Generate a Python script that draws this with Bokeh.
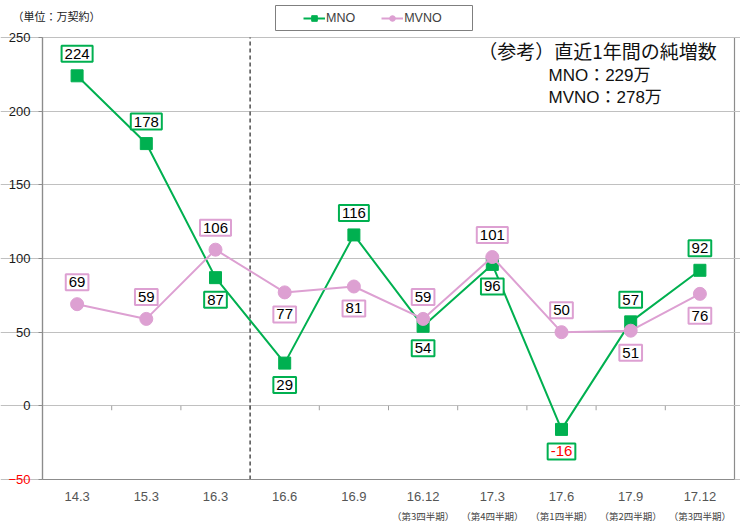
from bokeh.plotting import figure
from bokeh.models import (Range1d, FixedTicker, LinearAxis, Label, Legend,
                          LegendItem, ColumnDataSource)
from bokeh.core.properties import value
from bokeh.embed import file_html
from bokeh.resources import INLINE

# ---------------- data ----------------
categories = ["14.3", "15.3", "16.3", "16.6", "16.9", "16.12", "17.3", "17.6", "17.9", "17.12"]
sub_labels = ["", "", "", "", "", "（第3四半期）", "（第4四半期）", "（第1四半期）", "（第2四半期）", "（第3四半期）"]
mno = [224, 178, 87, 29, 116, 54, 96, -16, 57, 92]
mvno = [69, 59, 106, 77, 81, 59, 101, 50, 51, 76]
mno_side = ["above", "above", "below", "below", "above", "below", "below", "below", "above", "above"]
mvno_side = ["above", "above", "above", "below", "below", "above", "above", "above", "below", "below"]
y_ticks = [-50, 0, 50, 100, 150, 200, 250]
neg_ticks = [t for t in y_ticks if t < 0]
split_after = "16.3"   # dashed separator after this category
note_title = "（参考）直近1年間の純増数"
note_lines = ["MNO：229万", "MVNO：278万"]
unit_label = "（単位：万契約）"

GREEN = "#00B050"
PINK = "#DDA0D2"
FRAME = "#8c8c8c"
LAT = "Liberation Sans"
JP = "Noto Sans CJK JP"

# ---------------- layout (pixels) ----------------
W, H = 740, 522
PX_L, PX_R, PX_T, PX_B = 42, 734, 37, 479   # plot-area box on the canvas
LEG_BOX = (275, 472, 5, 30)                 # legend box: left, right, top, bottom

xs = list(range(len(categories)))
x0, x1 = -0.5, len(categories) - 0.5
y0, y1 = min(y_ticks), max(y_ticks)
ux = (x1 - x0) / (PX_R - PX_L)
uy = (y1 - y0) / (PX_B - PX_T)
x_range = Range1d(x0 - PX_L * ux, x1 + (W - PX_R) * ux)
y_range = Range1d(y0 - (H - PX_B) * uy, y1 + PX_T * uy)


def dx(px):
    return x0 + (px - PX_L) * ux


def dy(py):
    return y1 - (py - PX_T) * uy


p = figure(width=W, height=H, output_backend="svg", toolbar_location=None,
           x_range=x_range, y_range=y_range, x_axis_type=None,
           min_border_left=0, min_border_right=0, min_border_top=0, min_border_bottom=0)
p.background_fill_color = "white"
p.border_fill_color = "white"
p.outline_line_color = None

# plot-area box
p.quad(left=[x0], right=[x1], bottom=[y0], top=[y1], fill_color=None,
       line_color=FRAME, line_width=1.2, level="underlay")

# y axis at the left edge of the plot area
ya = p.yaxis[0]
ya.fixed_location = x0
ya.bounds = (y0, y1)
ya.ticker = FixedTicker(ticks=y_ticks)
ya.major_label_overrides = {t: " " for t in neg_ticks}
ya.axis_line_color = FRAME
ya.axis_line_width = 1.2
ya.major_tick_line_color = FRAME
ya.major_tick_in = 0
ya.major_tick_out = 4
ya.minor_tick_line_color = None
ya.major_label_standoff = 8
ya.major_label_text_font = LAT
ya.major_label_text_font_size = "13px"
ya.major_label_text_color = "#1a1a1a"

yneg = LinearAxis(ticker=FixedTicker(ticks=neg_ticks), fixed_location=x0, bounds=(y0, y1))
yneg.axis_line_color = None
yneg.major_tick_line_color = None
yneg.minor_tick_line_color = None
yneg.major_tick_in = 0
yneg.major_tick_out = 4
yneg.major_label_standoff = 8
yneg.major_label_text_font = LAT
yneg.major_label_text_font_size = "13px"
yneg.major_label_text_color = "#ff0000"
p.add_layout(yneg, "left")

p.ygrid.ticker = FixedTicker(ticks=y_ticks)
p.ygrid.bounds = (x0, x1)
p.ygrid.grid_line_color = "#c0c0c0"
p.ygrid.grid_line_width = 1

# x axes at the bottom edge of the plot area (main labels + sub labels)
xa = LinearAxis(ticker=FixedTicker(ticks=xs), fixed_location=y0, bounds=(x0, x1),
                major_label_overrides={i: c for i, c in enumerate(categories)})
xa.axis_line_color = FRAME
xa.axis_line_width = 1.2
xa.major_tick_line_color = None
xa.minor_tick_line_color = None
xa.major_tick_in = 0
xa.major_tick_out = 0
xa.major_label_standoff = 12
xa.major_label_text_font = LAT
xa.major_label_text_font_size = "13px"
xa.major_label_text_color = "#555555"
p.add_layout(xa, "below")

xb = LinearAxis(ticker=FixedTicker(ticks=xs), fixed_location=y0, bounds=(x0, x1),
                major_label_overrides={i: (s if s else " ") for i, s in enumerate(sub_labels)})
xb.axis_line_color = None
xb.major_tick_line_color = None
xb.minor_tick_line_color = None
xb.major_tick_in = 0
xb.major_tick_out = 0
xb.major_label_standoff = 29
xb.major_label_text_font = JP
xb.major_label_text_font_size = "9.5px"
xb.major_label_text_color = "#444444"
p.add_layout(xb, "below")

# tick marks on the zero line at category boundaries
bx = [i + 0.5 for i in range(len(categories) - 1)]
p.segment(x0=bx, x1=bx, y0=[0] * len(bx), y1=[-3] * len(bx), line_color="#a0a0a0", line_width=1)

# dashed separator
sx = categories.index(split_after) + 0.5
p.segment(x0=[sx], x1=[sx], y0=[y0], y1=[y1], line_color="#333333",
          line_dash="4 3", line_width=1.3)

# legend frame (drawn as a box above the plot area)
lb = LEG_BOX
p.quad(left=[dx(lb[0])], right=[dx(lb[1])], top=[dy(lb[2])], bottom=[dy(lb[3])],
       fill_color="white", line_color="#7f7f7f", line_width=1)

# series
src_mno = ColumnDataSource(dict(x=xs, y=mno, t=[str(v) for v in mno],
                                off=[-22 if s == "above" else 22 for s in mno_side],
                                c=["#ff0000" if v < 0 else "#000000" for v in mno]))
src_mvno = ColumnDataSource(dict(x=xs, y=mvno, t=[str(v) for v in mvno],
                                 off=[-22 if s == "above" else 22 for s in mvno_side],
                                 c=["#ff0000" if v < 0 else "#000000" for v in mvno]))

l1 = p.line("x", "y", source=src_mno, line_color=GREEN, line_width=2)
m1 = p.scatter("x", "y", source=src_mno, marker="square", size=12, fill_color=GREEN, line_color=GREEN)
l2 = p.line("x", "y", source=src_mvno, line_color=PINK, line_width=2)
m2 = p.scatter("x", "y", source=src_mvno, marker="circle", size=13, fill_color=PINK, line_color=PINK)

for src, col in ((src_mno, GREEN), (src_mvno, PINK)):
    p.text("x", "y", text="t", source=src, y_offset="off", text_align="center",
           text_baseline="middle", text_font=value(LAT), text_font_size="15px",
           text_color="c", background_fill_color="white", border_line_color=col,
           border_line_width=2, padding=3)

# legend items (location = bottom-left, px from canvas bottom-left)
legend = Legend(items=[LegendItem(label="MNO", renderers=[l1, m1]),
                       LegendItem(label="MVNO", renderers=[l2, m2])],
                orientation="horizontal", location=(303, H - 25),
                label_text_font=LAT, label_text_font_size="12.5px", label_text_color="#404040",
                glyph_width=22, glyph_height=14, label_standoff=1, spacing=26,
                padding=0, margin=0, border_line_color=None,
                background_fill_color=None, label_height=14)
p.add_layout(legend)

# texts (screen px from canvas bottom-left)
p.add_layout(Label(x=12, y=H - 15, x_units="screen", y_units="screen", text=unit_label,
                   text_font=JP, text_font_size="11px", text_baseline="middle",
                   text_color="#222222"))
p.add_layout(Label(x=597, y=H - 50, x_units="screen", y_units="screen", text=note_title,
                   text_font=JP, text_font_size="19px", text_align="center",
                   text_baseline="middle", text_color="#111111"))
for i, t in enumerate(note_lines):
    p.add_layout(Label(x=548, y=H - 75 - 22 * i, x_units="screen", y_units="screen", text=t,
                       text_font=LAT + ", " + JP, text_font_size="17px",
                       text_baseline="middle", text_color="#111111"))

open("out.html", "w").write(file_html(p, INLINE))
